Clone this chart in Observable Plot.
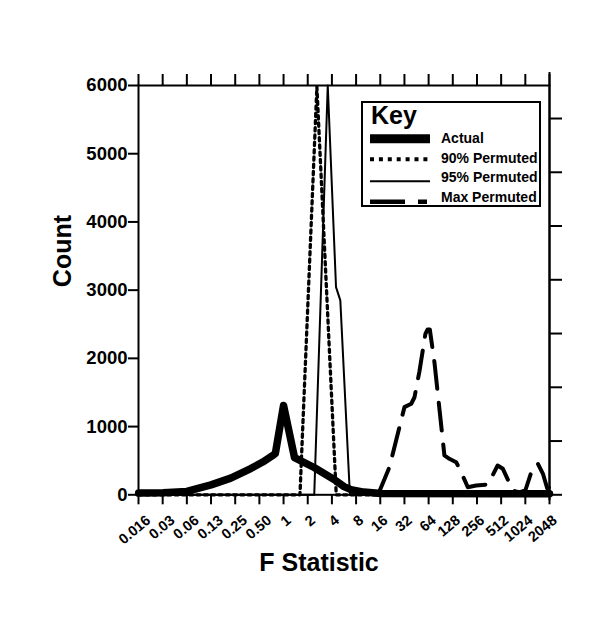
<!DOCTYPE html>
<html><head><meta charset="utf-8">
<script src="https://cdn.jsdelivr.net/npm/d3@7"></script>
<script src="https://cdn.jsdelivr.net/npm/@observablehq/plot@0.6"></script>
<style>
body{margin:0;background:#fff;}
#wrap{position:relative;width:600px;height:641px;font-family:"Liberation Sans",Arial,sans-serif;}
#key{position:absolute;left:0;top:0;pointer-events:none;}
</style></head><body><div id="wrap"></div>
<script>
// ---- data ----
const xTickValues = [0.015625, 0.03125, 0.0625, 0.125, 0.25, 0.5, 1, 2, 4, 8, 16, 32, 64, 128, 256, 512, 1024, 2048];
const xTickLabels = ["0.016", "0.03", "0.06", "0.13", "0.25", "0.50", "1", "2", "4", "8", "16", "32", "64", "128", "256", "512", "1024", "2048"];
const yTicks = [0, 1000, 2000, 3000, 4000, 5000, 6000];
const rightTicks = [0, 788, 1576, 2364, 3152, 3940, 4728, 5516];

const actualF     = [0.0157, 0.0317, 0.0625, 0.086, 0.125, 0.22, 0.39, 0.55, 0.72, 0.79, 1.0, 1.37, 2.4, 4.26, 5.66, 6.9, 10, 16.3, 2048];
const actualCount = [25, 30, 50, 95, 145, 245, 385, 480, 570, 605, 1310, 545, 400, 225, 120, 75, 40, 20, 15];

const p90F     = [0.015625, 1.6, 2.6, 4.53, 2048];
const p90Count = [0, 0, 5980, 0, 0];

const p95F     = [0.015625, 2.41, 3.55, 4.5, 5.09, 6.7, 2048];
const p95Count = [0, 0, 6000, 3045, 2850, 0, 0];

const maxF     = [15, 20.8, 32, 38.9, 42.7, 49.2, 58.4, 62.2, 66.2, 75.6, 87.2, 100.7, 116, 141, 162.7, 197, 250, 350, 463, 538, 717, 861, 1024, 1274, 1469, 1698, 1920, 2048];
const maxCount = [0, 405, 1285, 1335, 1430, 1810, 2360, 2425, 2425, 1945, 1262, 577, 528, 478, 332, 111, 136, 151, 430, 381, 63, 34, 63, 405, 455, 308, 92, 110];

const seriesNames = ["Actual", "90% Permuted", "95% Permuted", "Max Permuted"];

const toRows = (name, F, C) => F.map((f, i) => ({series: name, F: f, count: C[i]}));
const actualRows = toRows(seriesNames[0], actualF, actualCount);
const p90Rows = toRows(seriesNames[1], p90F, p90Count);
const p95Rows = toRows(seriesNames[2], p95F, p95Count);
const maxRows = toRows(seriesNames[3], maxF, maxCount);

const labelOf = new Map(xTickValues.map((v, i) => [v, xTickLabels[i]]));
const fracTicks = xTickValues.filter(v => v < 1);
const wholeTicks = xTickValues.filter(v => v >= 1);
const FONT = '"Liberation Sans", Arial, sans-serif';

const labelAxis = (ticks, dx) => Plot.axisX({
  ticks, tickSize: 0, tickPadding: 12, tickRotate: -40, textAnchor: "end", lineAnchor: "middle",
  dx, dy: 11.4, fontSize: 14.5, fontWeight: "bold", tickFormat: d => labelOf.get(d), label: null
});

const chart = Plot.plot({
  width: 600,
  height: 641,
  marginLeft: 138,
  marginRight: 51,
  marginTop: 85,
  marginBottom: 146.7,
  style: {fontFamily: FONT, fontWeight: "bold", color: "#000", background: "#fff", overflow: "visible"},
  x: {type: "log", base: 2, domain: [xTickValues[0], xTickValues[xTickValues.length - 1]]},
  y: {domain: [yTicks[0], yTicks[yTicks.length - 1]]},
  marks: [
    Plot.line(p90Rows, {x: "F", y: "count", stroke: "#000", strokeWidth: 3.3, strokeDasharray: "3.3,4"}),
    Plot.line(p95Rows, {x: "F", y: "count", stroke: "#000", strokeWidth: 2}),
    Plot.line(maxRows, {x: "F", y: "count", stroke: "#000", strokeWidth: 4, strokeDasharray: "28,14"}),
    Plot.line(actualRows, {x: "F", y: "count", stroke: "#000", strokeWidth: 7.5, strokeLinejoin: "round"}),
    Plot.frame({stroke: "#000", strokeWidth: 2}),
    Plot.ruleX([xTickValues[xTickValues.length - 1]], {stroke: "#000", strokeWidth: 2, insetTop: -13, insetBottom: -6}),
    Plot.axisY({ticks: yTicks, tickSize: 10, tickPadding: 1, strokeWidth: 2, fontSize: 18.5, fontWeight: "bold", label: null, tickFormat: d => String(d)}),
    Plot.axisY({anchor: "right", ticks: rightTicks, tickSize: 12, strokeWidth: 2, tickFormat: () => "", label: null}),
    Plot.axisX({ticks: xTickValues, tickSize: 10, strokeWidth: 2, tickFormat: () => "", label: null}),
    labelAxis(fracTicks, 10),
    labelAxis(wholeTicks, 5.4),
    Plot.axisX({anchor: "top", ticks: xTickValues, tickSize: 12, strokeWidth: 2, tickFormat: () => "", label: null}),
    Plot.text(["Count"], {text: d => d, frameAnchor: "left", dx: -76, dy: -3, rotate: -90, fontSize: 25, fontWeight: "bold", fill: "#000"}),
    Plot.text(["F Statistic"], {text: d => d, frameAnchor: "bottom", dx: -25, dy: 76.5, fontSize: 25, fontWeight: "bold", fill: "#000"})
  ]
});

const wrap = document.getElementById("wrap");
wrap.appendChild(chart);

// ---- key (legend) ----
const keyItems = [
  {label: seriesNames[0], width: 9, dash: null, y: 138.8, ty: 142.7},
  {label: seriesNames[1], width: 4, dash: "4,4.9", y: 159.2, ty: 162.8},
  {label: seriesNames[2], width: 2, dash: null, y: 181.2, ty: 182},
  {label: seriesNames[3], width: 4.5, dash: "35,13,9,100", y: 201.7, ty: 202}
];
const key = d3.select(wrap).append("svg").attr("id", "key").attr("width", 600).attr("height", 641)
  .style("font-family", FONT).style("font-weight", "bold");
key.append("rect").attr("x", 362).attr("y", 102).attr("width", 178).attr("height", 104)
  .attr("fill", "#fff").attr("stroke", "#000").attr("stroke-width", 2);
key.append("text").attr("x", 371).attr("y", 123.5).attr("font-size", 25).text("Key");
for (const it of keyItems) {
  key.append("line").attr("x1", 370).attr("x2", 430).attr("y1", it.y).attr("y2", it.y)
    .attr("stroke", "#000").attr("stroke-width", it.width).attr("stroke-dasharray", it.dash);
  key.append("text").attr("x", 441).attr("y", it.ty).attr("font-size", 14).text(it.label);
}
</script></body></html>
